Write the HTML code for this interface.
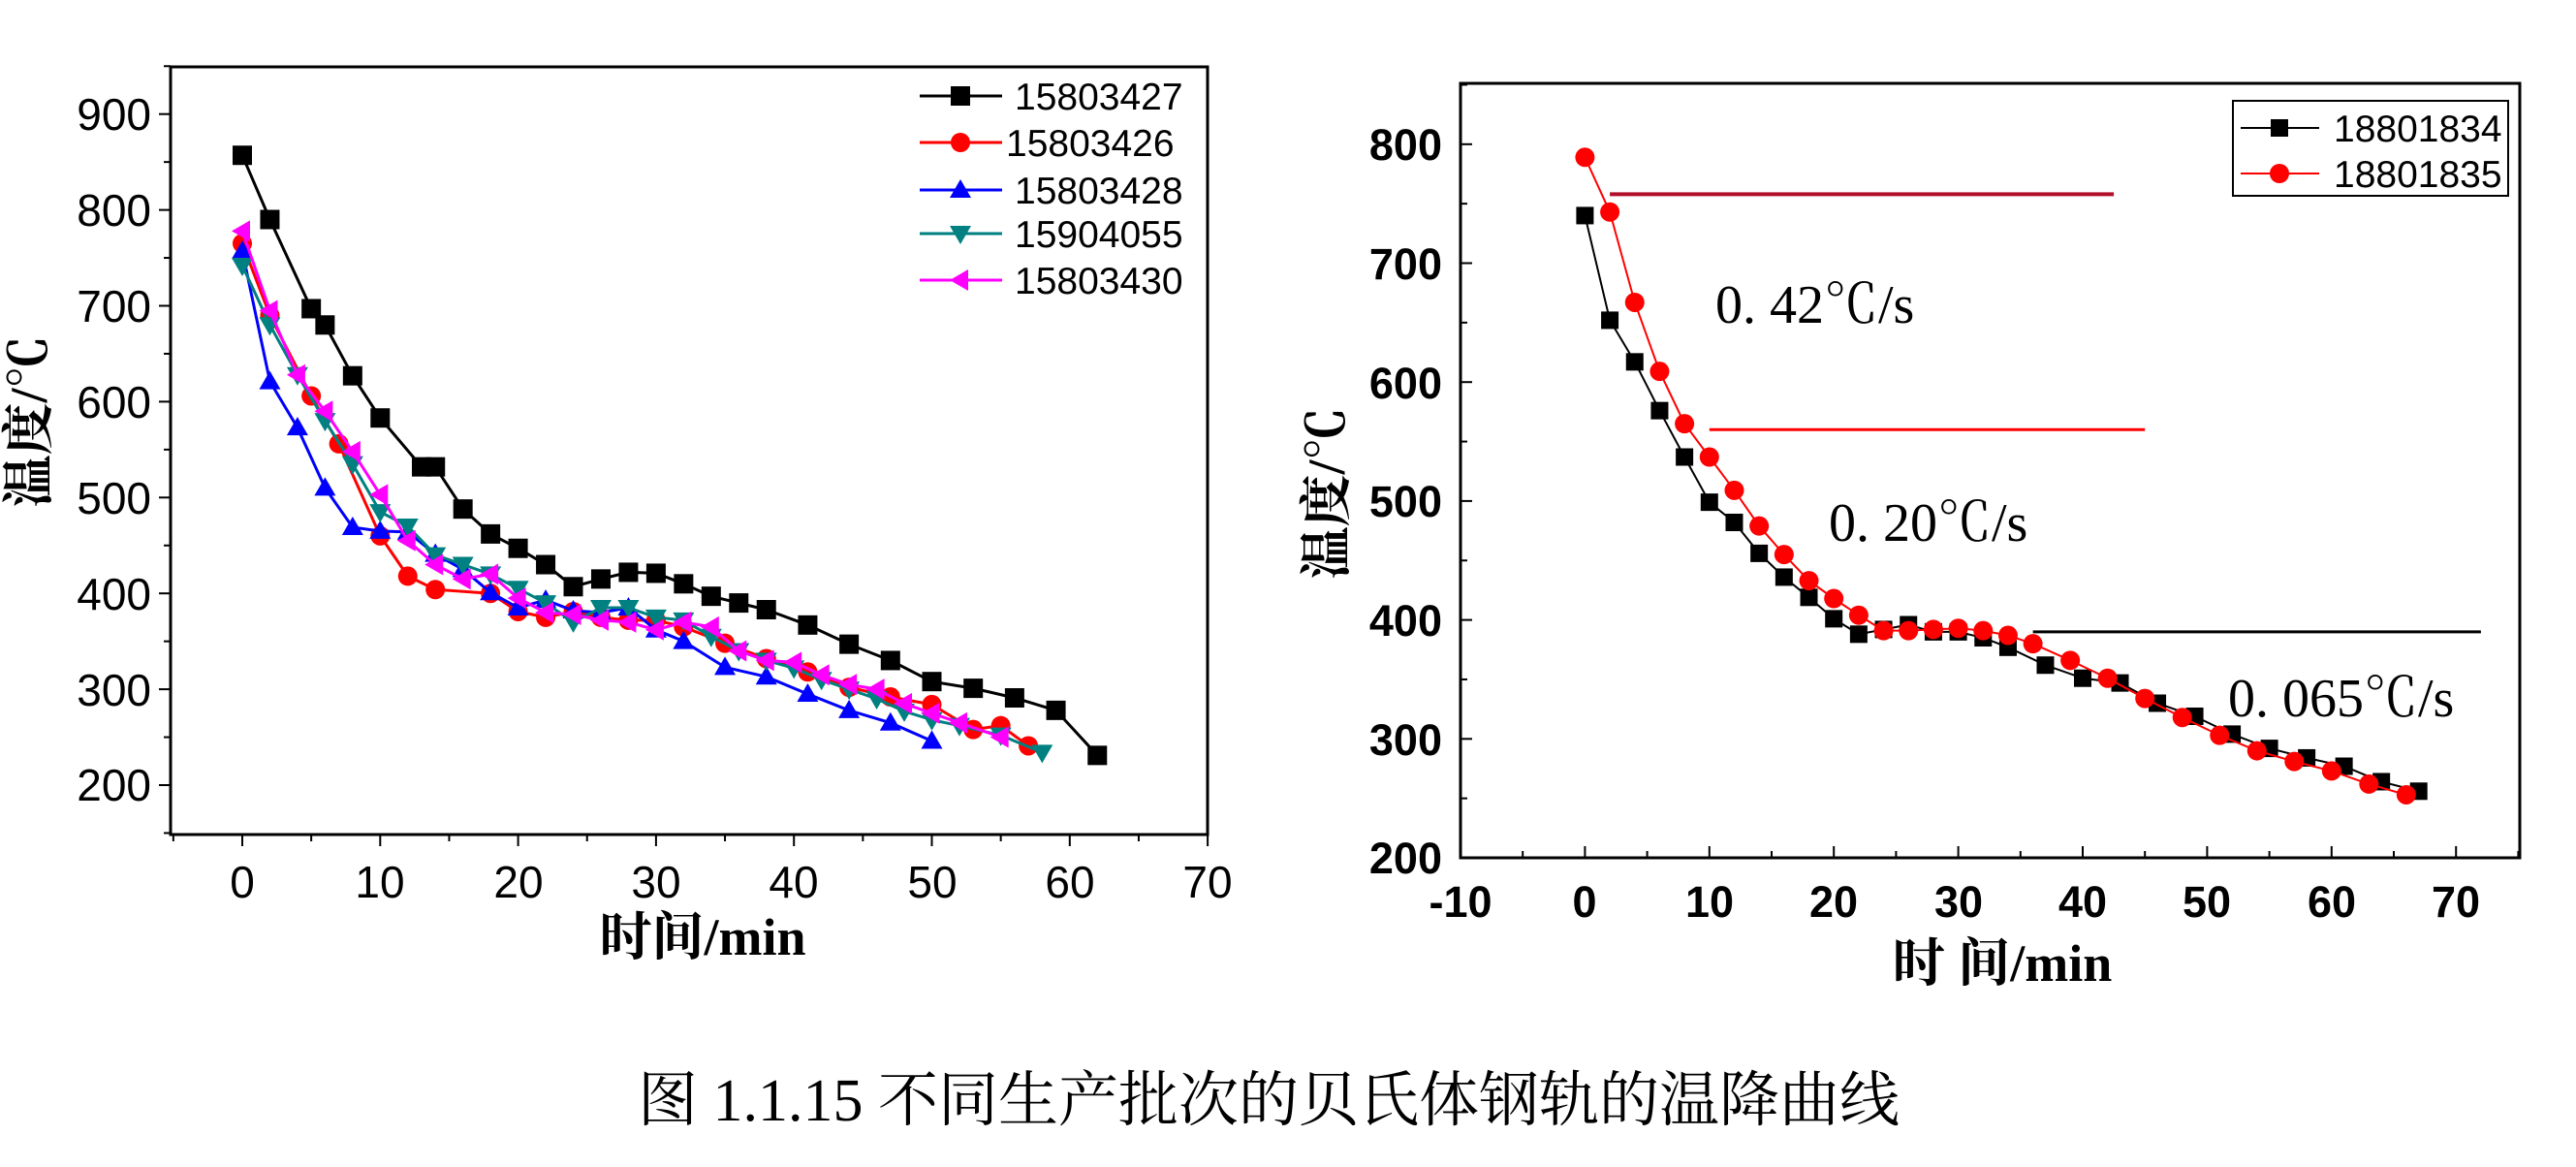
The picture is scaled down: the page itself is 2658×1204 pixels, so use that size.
<!DOCTYPE html>
<html><head><meta charset="utf-8"><style>
html,body{margin:0;padding:0;background:#fff;}
svg{display:block;}
.tk{font-family:"Liberation Sans",sans-serif;font-size:46px;fill:#000;}
.tkb{font-family:"Liberation Sans",sans-serif;font-size:45px;font-weight:bold;fill:#000;}
.ttl{font-family:"Liberation Serif","Noto Serif CJK SC",serif;font-size:54px;font-weight:bold;fill:#000;}
.lg{font-family:"Liberation Sans",sans-serif;font-size:39px;fill:#000;}
.an{font-family:"Liberation Serif","Noto Serif CJK SC",serif;font-size:56px;fill:#000;}
.cap{font-family:"Liberation Serif","Noto Serif CJK SC",serif;font-size:62px;fill:#000;}
</style></head><body>
<svg id="s" width="2658" height="1204" viewBox="0 0 2658 1204" xmlns="http://www.w3.org/2000/svg">
<rect width="2658" height="1204" fill="#fff"/>
<rect x="176" y="69" width="1070" height="792" fill="none" stroke="#000" stroke-width="3"/>
<g class="tk" text-anchor="end">
<text x="156" y="134">900</text><text x="156" y="233">800</text><text x="156" y="332">700</text><text x="156" y="431">600</text><text x="156" y="530">500</text><text x="156" y="629">400</text><text x="156" y="728">300</text><text x="156" y="826">200</text>
</g>
<g class="tk" text-anchor="middle">
<text x="250" y="926">0</text><text x="392" y="926">10</text><text x="535" y="926">20</text><text x="677" y="926">30</text><text x="819" y="926">40</text><text x="962" y="926">50</text><text x="1104" y="926">60</text><text x="1246" y="926">70</text>
</g>
<text class="ttl" x="725" y="985" text-anchor="middle">时间/min</text>
<text class="ttl" transform="translate(48,435) rotate(-90)" text-anchor="middle">温度/℃</text>
<g class="lg">
<text x="1047" y="113">15803427</text><text x="1038" y="161">15803426</text><text x="1047" y="210">15803428</text><text x="1047" y="255">15904055</text><text x="1047" y="303">15803430</text>
</g>
<rect x="1507" y="86" width="1093" height="799" fill="none" stroke="#000" stroke-width="3"/>
<g class="tkb" text-anchor="end">
<text x="1488" y="165">800</text><text x="1488" y="288">700</text><text x="1488" y="411">600</text><text x="1488" y="533">500</text><text x="1488" y="656">400</text><text x="1488" y="779">300</text><text x="1488" y="901">200</text>
</g>
<g class="tkb" text-anchor="middle">
<text x="1507" y="946">-10</text><text x="1635" y="946">0</text><text x="1764" y="946">10</text><text x="1892" y="946">20</text><text x="2021" y="946">30</text><text x="2149" y="946">40</text><text x="2277" y="946">50</text><text x="2406" y="946">60</text><text x="2534" y="946">70</text>
</g>
<text class="ttl" x="2066" y="1012" text-anchor="middle">时 间/min</text>
<text class="ttl" transform="translate(1387,509) rotate(-90)" text-anchor="middle">温度/℃</text>
<rect x="2304" y="104" width="284" height="98" fill="#fff" stroke="#000" stroke-width="2"/>
<g class="lg"><text x="2408" y="146">18801834</text><text x="2408" y="193">18801835</text></g>
<text class="an" x="1770" y="333">0. 42℃/s</text>
<text class="an" x="1887" y="558">0. 20℃/s</text>
<text class="an" x="2299" y="739">0. 065℃/s</text>
<text class="cap" x="658" y="1156">图 1.1.15 不同生产批次的贝氏体钢轨的温降曲线</text>
<g id="plot"></g>
</svg>
<script>
var NS="http://www.w3.org/2000/svg",P=document.getElementById('plot');
function el(n,a){var e=document.createElementNS(NS,n);for(var k in a)e.setAttribute(k,a[k]);P.appendChild(e);return e;}
function LX(t){return 250+t*14.23;} function LY(v){return 810-(v-200)*0.989;}
function RX(t){return 1507+(t+10)*12.84;} function RY(v){return 885-(v-200)*1.227;}
function mk(type,x,y,c,s){
 if(type=='sq')el('rect',{x:x-s,y:y-s,width:2*s,height:2*s,fill:c});
 else if(type=='ci')el('circle',{cx:x,cy:y,r:s,fill:c});
 else if(type=='up')el('polygon',{points:(x)+','+(y-s*1.1)+' '+(x-s*1.1)+','+(y+s*0.8)+' '+(x+s*1.1)+','+(y+s*0.8),fill:c});
 else if(type=='dn')el('polygon',{points:(x)+','+(y+s*1.1)+' '+(x-s*1.1)+','+(y-s*0.8)+' '+(x+s*1.1)+','+(y-s*0.8),fill:c});
 else if(type=='lf')el('polygon',{points:(x-s*1.1)+','+y+' '+(x+s*0.8)+','+(y-s*1.1)+' '+(x+s*0.8)+','+(y+s*1.1),fill:c});
}
function series(d,fx,fy,c,type,s,w){
 var p=d.map(function(q){return fx(q[0]).toFixed(1)+','+fy(q[1]).toFixed(1)}).join(' ');
 el('polyline',{points:p,fill:'none',stroke:c,'stroke-width':w});
 d.forEach(function(q){mk(type,fx(q[0]),fy(q[1]),c,s);});
}
var i;
for(i=150;i<=950;i+=50){var y=LY(i);el('line',{x1:176,x2:i%100==0?164:169,y1:y,y2:y,stroke:'#000','stroke-width':2});}
for(i=-5;i<=70;i+=5){var x=LX(i);el('line',{x1:x,x2:x,y1:861,y2:i%10==0?873:868,stroke:'#000','stroke-width':2});}
for(i=250;i<=850;i+=50){var y=RY(i);el('line',{x1:1507,x2:i%100==0?1519:1514,y1:y,y2:y,stroke:'#000','stroke-width':2});}
for(i=-10;i<=75;i+=5){var x=RX(i);el('line',{x1:x,x2:x,y1:885,y2:i%10==0?873:878,stroke:'#000','stroke-width':2});}
var bk=[[0,857],[2,790],[5,697],[6,680],[8,627],[10,583],[13,532],[14,532],[16,488],[18,462],[20,447],[22,430],[24,407],[26,415],[28,422],[30,421],[32,410],[34,397],[36,390],[38,383],[41,367],[44,347],[47,330],[50,308],[53,301],[56,291],[59,278],[62,231]];
var rd=[[0,765],[2,690],[5,606],[7,556],[10,460],[12,418],[14,404],[18,400],[20,381],[22,375],[24,381],[26,375],[28,372],[30,372],[32,365],[35,348],[38,332],[41,318],[44,302],[47,292],[50,284],[53,258],[55,262],[57,241]];
var bl=[[0,757],[2,621],[4,573],[6,510],[8,469],[10,465],[12,464],[14,441],[16,425],[18,401],[20,385],[22,393],[24,382],[26,380],[28,385],[30,362],[32,350],[35,323],[38,313],[41,295],[44,278],[47,265],[50,246]];
var tl=[[0,742],[2,680],[4,628],[6,580],[8,535],[10,485],[12,470],[14,440],[16,430],[18,420],[20,405],[22,390],[24,370],[26,385],[28,385],[30,375],[32,372],[34,355],[36,340],[38,330],[40,322],[42,310],[44,300],[46,290],[48,277],[50,268],[52,262],[55,252],[58,234]];
var mg=[[0,778],[2,695],[4,628],[6,590],[8,548],[10,503],[12,455],[14,430],[16,415],[18,420],[20,395],[22,380],[24,378],[26,372],[28,370],[30,362],[32,370],[34,365],[36,340],[38,330],[40,328],[42,315],[44,305],[46,300],[48,285],[50,275],[52,265],[55,250]];
series(bk,LX,LY,'#000','sq',10,3);
series(rd,LX,LY,'#f00','ci',10,3);
series(bl,LX,LY,'#00f','up',10,3);
series(tl,LX,LY,'#008080','dn',10,3);
series(mg,LX,LY,'#f0f','lf',10,3);
var lgy=[99,147,196,241,289],lc=['#000','#f00','#00f','#008080','#f0f'],lt=['sq','ci','up','dn','lf'];
for(i=0;i<5;i++){el('line',{x1:949,x2:1034,y1:lgy[i],y2:lgy[i],stroke:lc[i],'stroke-width':3});mk(lt[i],991,lgy[i],lc[i],10);}
var rb=[[0,740],[2,652],[4,617],[6,576],[8,537],[10,499],[12,482],[14,456],[16,436],[18,419],[20,401],[22,388],[24,392],[26,396],[28,390],[30,390],[32,385],[34,377],[37,362],[40,351],[43,347],[46,330],[49,319],[52,304],[55,292],[58,284],[61,277],[64,264],[67,256]];
var rr=[[0,789],[2,743],[4,667],[6,609],[8,565],[10,537],[12,509],[14,479],[16,455],[18,433],[20,418],[22,404],[24,391],[26,391],[28,392],[30,393],[32,391],[34,387],[36,380],[39,366],[42,351],[45,334],[48,318],[51,303],[54,290],[57,281],[60,273],[63,262],[66,253]];
el('line',{x1:RX(2),x2:RX(42.5),y1:RY(758),y2:RY(758),stroke:'#b0102a','stroke-width':4});
el('line',{x1:RX(10),x2:RX(45),y1:RY(560),y2:RY(560),stroke:'#f00','stroke-width':3});
el('line',{x1:RX(36),x2:RX(72),y1:RY(390),y2:RY(390),stroke:'#000','stroke-width':3});
series(rb,RX,RY,'#000','sq',9,2);
series(rr,RX,RY,'#f00','ci',10,2);
el('line',{x1:2312,x2:2393,y1:132,y2:132,stroke:'#000','stroke-width':2});mk('sq',2352,132,'#000',9);
el('line',{x1:2312,x2:2393,y1:179,y2:179,stroke:'#f00','stroke-width':2});mk('ci',2352,179,'#f00',10);
</script>
</body></html>
